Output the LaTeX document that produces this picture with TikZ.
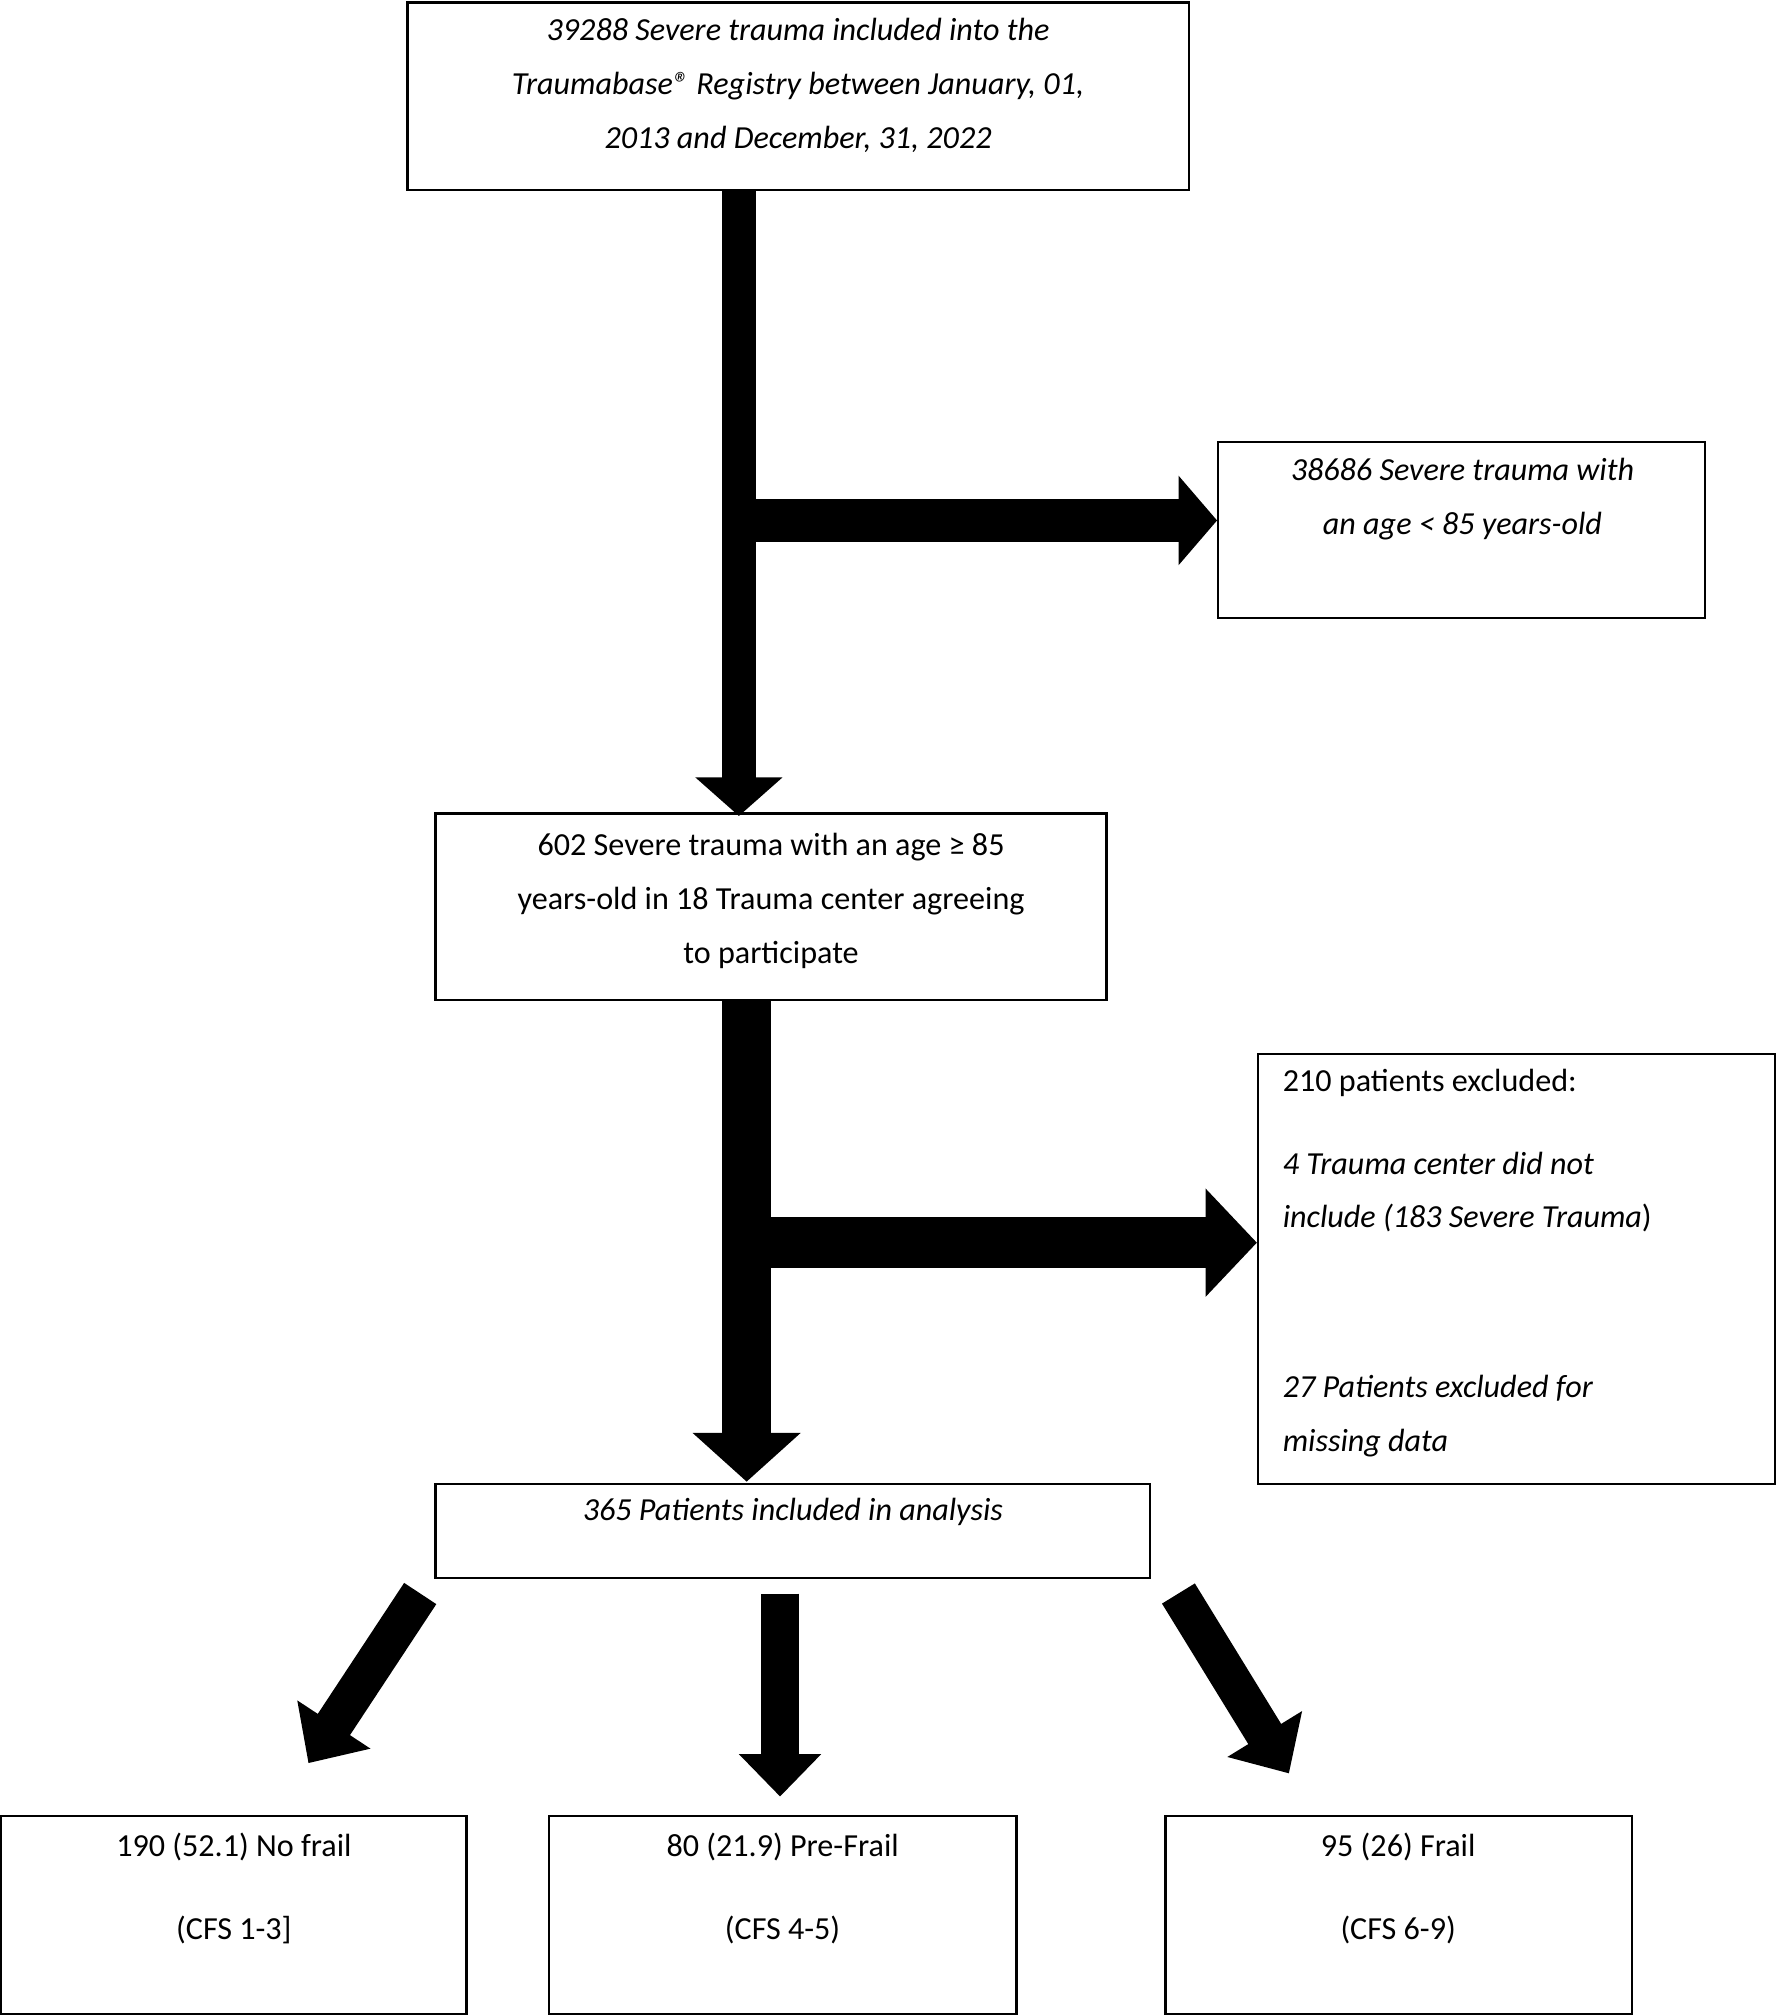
\documentclass[tikz,border=0pt]{standalone}
\usepackage{fontspec}
\setmainfont{Carlito}
\usetikzlibrary{arrows.meta}
\begin{document}
\begin{tikzpicture}[x=1pt,y=-1pt,
 box/.style={draw,line width=1.8pt,inner sep=0},
 txt/.style={font=\fontsize{25}{42}\selectfont,align=center,anchor=north,inner sep=0},
 big/.style={line width=#1,line cap=butt,fill=black},
]
\useasboundingbox (0,0) rectangle (1382,1568);
\newcommand{\bx}[5]{\node[box,minimum width={#4-#2},minimum height={#5-#3}] (#1) at ({(#2+#4)/2},{(#3+#5)/2}) {};}
\bx{A}{317}{2}{925}{148}
\bx{B}{948}{344}{1327}{481}
\bx{C}{339}{633}{861}{778}
\bx{D}{979}{820}{1381}{1155}
\bx{E}{339}{1155}{895}{1228}
\bx{F1}{1}{1413}{363}{1567}
\bx{F2}{427}{1413}{791}{1567}
\bx{F3}{907}{1413}{1270}{1567}
\node[txt,font=\fontsize{25}{42}\selectfont\itshape] at (621,14) {39288 Severe trauma included into the\\Traumabase® Registry between January, 01,\\2013 and December, 31, 2022};
\node[txt,font=\fontsize{25}{42}\selectfont\itshape] at (1138,356) {38686 Severe trauma with\\an age < 85 years-old};
\node[txt] at (600,648) {602 Severe trauma with an age ≥ 85\\years-old in 18 Trauma center agreeing\\to participate};
\node[txt,anchor=north west,align=left] at (998,832) {210 patients excluded:};
\node[txt,anchor=north west,align=left,font=\fontsize{25}{42}\selectfont\itshape] at (998,896) {4 Trauma center did not\\include (183 Severe Trauma\textup{)}};
\node[txt,anchor=north west,align=left,font=\fontsize{25}{42}\selectfont\itshape] at (998,1070) {27 Patients excluded for\\missing data};
\node[txt,font=\fontsize{25}{42}\selectfont\itshape] at (617,1166) {365 Patients included in analysis};
\node[txt] at (182,1426) {190 (52.1) No frail};
\node[txt] at (182,1491) {(CFS 1-3]};
\node[txt] at (609,1426) {80 (21.9) Pre-Frail};
\node[txt] at (609,1491) {(CFS 4-5)};
\node[txt] at (1088,1426) {95 (26) Frail};
\node[txt] at (1088,1491) {(CFS 6-9)};
% arrows
\coordinate (a1) at (575,148); \coordinate (b1) at (575,405);
\draw[line width=26pt,-{Triangle[length=30pt,width=66pt]}] (a1) -- (575,635);
\draw[line width=34pt,-{Triangle[length=30pt,width=68pt]}] (588,405) -- (B.west |- b1);
\coordinate (a2) at (581,778);
\draw[line width=38pt,-{Triangle[length=38pt,width=82pt]}] (a2) -- (581,1153);
\draw[line width=40pt,-{Triangle[length=40pt,width=82pt]}] (600,967) -- (D.west |- 0,967);
\draw[line width=30pt,-{Triangle[length=33pt,width=62pt]}] (607,1240) -- (607,1398);
\draw[line width=30pt,-{Triangle[length=36pt,width=66pt]}] (327,1240) -- (240,1372);
\draw[line width=30pt,-{Triangle[length=36pt,width=66pt]}] (917,1240) -- (1003,1380);
\end{tikzpicture}
\end{document}
